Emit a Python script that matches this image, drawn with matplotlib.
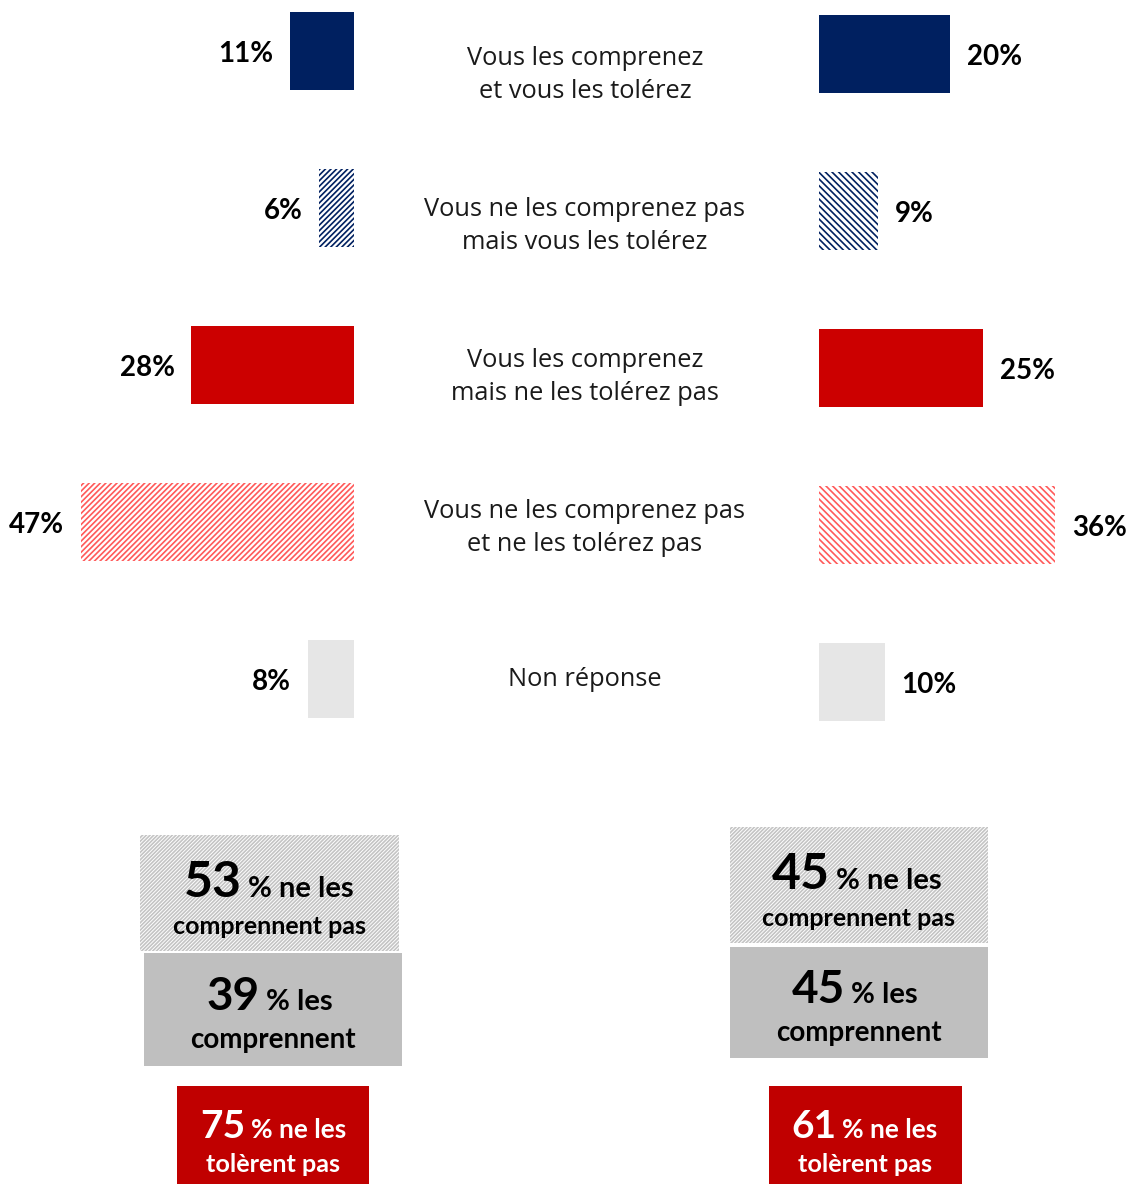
import matplotlib.pyplot as plt
from matplotlib.patches import Rectangle

plt.rcParams['hatch.linewidth'] = 1.2

categories = ["Vous les comprenez\net vous les tolérez",
              "Vous ne les comprenez pas\nmais vous les tolérez",
              "Vous les comprenez\nmais ne les tolérez pas",
              "Vous ne les comprenez pas\net ne les tolérez pas",
              "Non réponse"]
left_vals = [11, 6, 28, 47, 8]
right_vals = [20, 9, 25, 36, 10]

left_summary = [53, 39, 75]
right_summary = [45, 45, 61]
summary_suffix = ["% ne les", "% les", "% ne les"]
summary_line2 = ["comprennent pas", "comprennent", "tolèrent pas"]

W, H = 1131, 1184
navy = '#002060'
red = '#cc0000'
faces = [navy, 'white', red, 'white', '#e6e6e6']
edges = [navy, navy, red, '#ff5a5a', '#e6e6e6']
bold_font = 'Lato'
reg_font = 'Open Sans'

fig = plt.figure(figsize=(W / 100, H / 100), dpi=100)


def px_axes(x0, y0, x1, y1):
    return fig.add_axes([x0 / W, 1 - y1 / H, (x1 - x0) / W, (y1 - y0) / H])


def bar_panel(x0, x1, xmax, ytop, vals, hatch, side):
    ax = px_axes(x0, 0, x1, 760)
    ypos = list(range(len(vals)))
    bars = ax.barh(ypos, vals, height=0.5, color=faces, edgecolor=edges,
                   linewidth=0)
    for b, v in zip(bars, vals):
        if b.get_facecolor()[:3] == (1.0, 1.0, 1.0):
            b.set_hatch(hatch)
    # 157 px between rows, first row centre at ytop
    ax.set_ylim((760 - ytop) / 157, -ytop / 157)
    if side == 'left':
        ax.set_xlim(xmax, 0)
    else:
        ax.set_xlim(0, xmax)
    for y, v in zip(ypos, vals):
        off = -12 if side == 'left' else 12
        ax.annotate(f"{v}%", (v, y), xytext=(off, -2), textcoords='offset points',
                    ha='right' if side == 'left' else 'left', va='center',
                    fontsize=20, fontweight='bold', family=bold_font)
    ax.axis('off')
    return ax


# left: 5.81 px per point, right: 6.56 px per point
bar_panel(354 - 5.81 * 50, 354, 50, 51, left_vals, '//////', 'left')
bar_panel(819, 819 + 6.56 * 40, 40, 54, right_vals, '\\\\\\\\\\', 'right')

ov = fig.add_axes([0, 0, 1, 1])
ov.set_xlim(0, W)
ov.set_ylim(H, 0)
ov.axis('off')

for i, cat in enumerate(categories):
    ov.text(585, 75 + 151 * i, cat, ha='center', va='center', fontsize=18.3,
            family=reg_font, linespacing=1.44, color='#1a1a1a')

# summary boxes: (x0, y0, x1, y1)
boxes = {
    'left': [(140, 835, 399, 951), (144, 953, 402, 1066), (177, 1086, 369, 1190)],
    'right': [(730, 827, 988, 943), (730, 947, 988, 1058), (769, 1086, 962, 1190)],
}
split_x = {'left': [242, 260, 245], 'right': [830, 845, 836]}
line1_y = {'left': [897, 1010, 1138], 'right': [889, 1003, 1138]}
line2_y = {'left': [926, 1040, 1164], 'right': [919, 1033, 1164]}
box_face = ['white', '#bfbfbf', '#c00000']
txt_col = ['black', 'black', 'white']
num_size = [36, 33, 28]
suf_size = [21, 21, 19]
l2_size = [18, 20, 18.2]

for side, vals in (('left', left_summary), ('right', right_summary)):
    for k, v in enumerate(vals):
        x0, y0, x1, y1 = boxes[side][k]
        r = Rectangle((x0, y0), x1 - x0, y1 - y0, facecolor=box_face[k],
                      edgecolor='#c4c4c4' if k == 0 else box_face[k], linewidth=0,
                      hatch='/////////' if k == 0 else None, clip_on=False)
        ov.add_patch(r)
        sx = split_x[side][k]
        ov.text(sx, line1_y[side][k], str(v), ha='right', va='baseline',
                fontsize=num_size[k], fontweight='bold', family=bold_font,
                color=txt_col[k])
        ov.text(sx + 6, line1_y[side][k], summary_suffix[k], ha='left', va='baseline',
                fontsize=suf_size[k], fontweight='bold', family=bold_font,
                color=txt_col[k])
        ov.text((x0 + x1) / 2, line2_y[side][k], summary_line2[k], ha='center',
                va='center', fontsize=l2_size[k], fontweight='bold',
                family=bold_font, color=txt_col[k])

fig.savefig('out.png', dpi=100)
